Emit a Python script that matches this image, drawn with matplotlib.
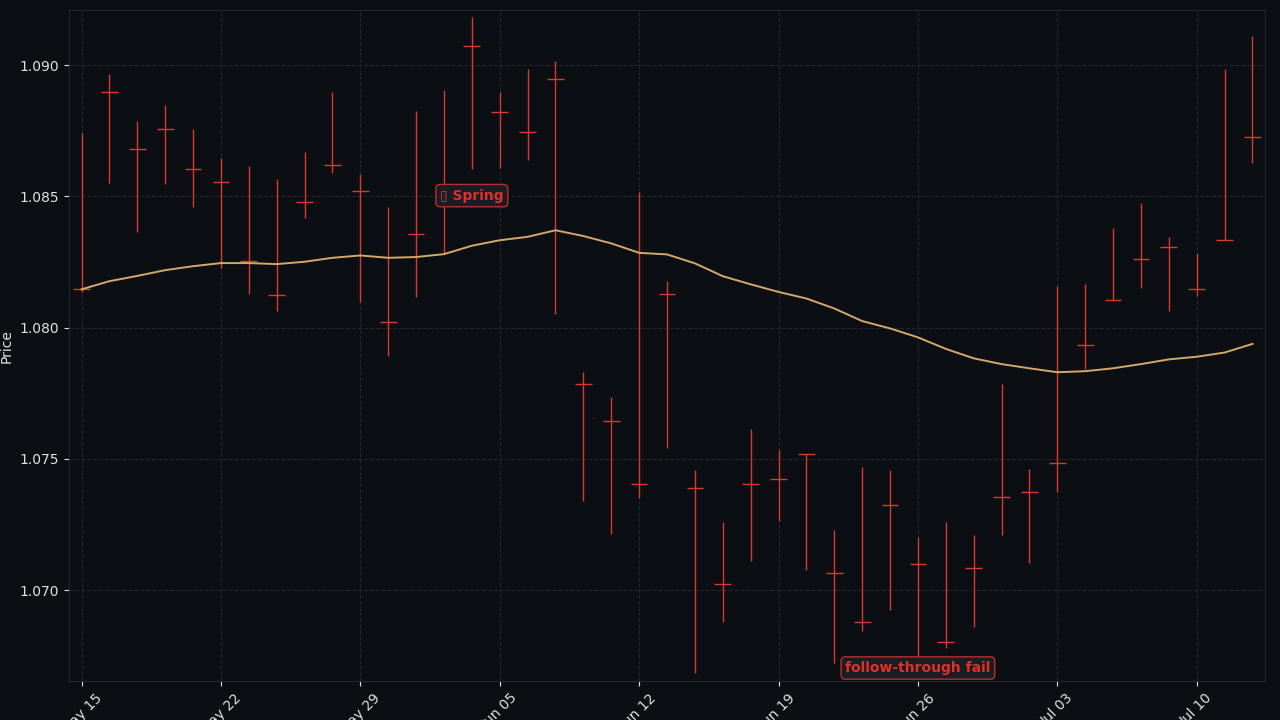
import matplotlib
matplotlib.use("Agg")
import matplotlib.pyplot as plt
import numpy as np
import pandas as pd

# Daily bars (business days)
dates = pd.bdate_range("2023-05-15", periods=43)

highs = [1.08742, 1.08968, 1.08789, 1.08850, 1.08755, 1.08648, 1.08614, 1.08565,
         1.08671, 1.08896, 1.08586, 1.08458, 1.08827, 1.08907, 1.09182, 1.08898,
         1.08987, 1.09016, 1.07829, 1.07734, 1.08517, 1.08178, 1.07456, 1.07260,
         1.07612, 1.07532, 1.07517, 1.07227, 1.07470, 1.07456, 1.07203, 1.07260,
         1.07208, 1.07784, 1.07460, 1.08158, 1.08165, 1.08380, 1.08473, 1.08344,
         1.08285, 1.08984, 1.09113]
lows = [1.08134, 1.08552, 1.08363, 1.08549, 1.08458, 1.08226, 1.08130, 1.08062,
        1.08416, 1.08591, 1.08096, 1.07891, 1.08116, 1.08280, 1.08606, 1.08610,
        1.08637, 1.08051, 1.07338, 1.07213, 1.07350, 1.07540, 1.06683, 1.06877,
        1.07109, 1.07262, 1.07075, 1.06721, 1.06844, 1.06924, 1.06703, 1.06778,
        1.06860, 1.07208, 1.07105, 1.07372, 1.07841, 1.08107, 1.08150, 1.08062,
        1.08120, 1.08333, 1.08629]
closes = [1.08146, 1.08896, 1.08679, 1.08755, 1.08606, 1.08553, 1.08252, 1.08126,
          1.08477, 1.08619, 1.08519, 1.08020, 1.08355, 1.08500, 1.09075, 1.08820,
          1.08744, 1.08946, 1.07787, 1.07643, 1.07403, 1.08130, 1.07387, 1.07022,
          1.07406, 1.07423, 1.07517, 1.07064, 1.06877, 1.07326, 1.07098, 1.06801,
          1.07083, 1.07353, 1.07372, 1.07483, 1.07932, 1.08107, 1.08261, 1.08309,
          1.08149, 1.08333, 1.08728]
ma = [1.08146, 1.08177, 1.08197, 1.08219, 1.08234, 1.08246, 1.08246, 1.08242,
      1.08251, 1.08266, 1.08275, 1.08266, 1.08269, 1.08280, 1.08312, 1.08333,
      1.08346, 1.08371, 1.08349, 1.08321, 1.08285, 1.08279, 1.08245, 1.08196,
      1.08165, 1.08136, 1.08111, 1.08073, 1.08025, 1.07997, 1.07963, 1.07919,
      1.07883, 1.07861, 1.07845, 1.07830, 1.07834, 1.07845, 1.07861, 1.07879,
      1.07889, 1.07905, 1.07938]

# annotations: (bar index, price, text) - the reference shows an empty box before "Spring"
notes = [(14, 1.08503, "\u25AF Spring"), (30, 1.06703, "follow-through fail")]

BG = "#0b0e13"
BAR = "#d93a2f"
MA_COLOR = "#d4a86a"
TXT = "#e0e0e0"

fig = plt.figure(figsize=(12.8, 7.2), dpi=100, facecolor=BG)
ax = fig.add_axes([0.0539, 0.054, 0.9344, 0.932])
ax.set_facecolor(BG)

x = np.arange(len(dates))
ax.vlines(x, lows, highs, color=BAR, linewidth=1.0, zorder=3)
ax.hlines(closes, x - 0.3, x + 0.3, color=BAR, linewidth=1.0, zorder=3)
ax.plot(x, ma, color=MA_COLOR, linewidth=1.4, zorder=4)

for i, price, label in notes:
    ax.text(i, price, label, ha="center", va="center", fontsize=10,
            fontweight="bold", color="#e0302a", zorder=6,
            bbox=dict(boxstyle="round,pad=0.3", facecolor="#1b1e25",
                      edgecolor="#c0302a", linewidth=1.0, alpha=0.95))

ax.set_xlim(-0.45, len(dates) - 0.55)
ax.set_ylim(1.06653, 1.09210)

ticks = x[::5]
ax.set_xticks(ticks)
ax.set_xticklabels([d.strftime("%b %d") for d in dates[::5]], rotation=45, ha="center")
ax.set_yticks([1.070, 1.075, 1.080, 1.085, 1.090])
ax.yaxis.set_major_formatter(matplotlib.ticker.FormatStrFormatter("%.3f"))

ax.set_ylabel("Price", color=TXT, fontsize=10, labelpad=4)
ax.tick_params(colors=TXT, labelsize=10)
for s in ax.spines.values():
    s.set_color("#23272e")

ax.grid(True, color="#22262d", linestyle="--", linewidth=0.8, zorder=0)
ax.set_axisbelow(True)

fig.savefig("out.png", dpi=100, facecolor=BG)
